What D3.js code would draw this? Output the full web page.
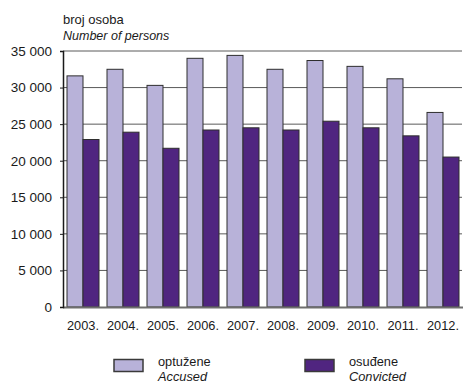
<!DOCTYPE html>
<html>
<head>
<meta charset="utf-8">
<script src="https://cdn.jsdelivr.net/npm/d3@7"></script>
<style>
  html, body { margin: 0; padding: 0; background: #fff; }
  svg { display: block; font-family: "Liberation Sans", Arial, sans-serif; }
</style>
</head>
<body>
<svg id="chart" width="463" height="385"></svg>
<script>
// Persons accused and convicted, by year
const years = ["2003.", "2004.", "2005.", "2006.", "2007.", "2008.", "2009.", "2010.", "2011.", "2012."];
const accused   = [31600, 32500, 30300, 34000, 34400, 32500, 33700, 32900, 31200, 26600];
const convicted = [22900, 23900, 21700, 24200, 24500, 24200, 25400, 24500, 23400, 20500];
const yTicks = [0, 5000, 10000, 15000, 20000, 25000, 30000, 35000];
const seriesKeys = ["accused", "convicted"];
const seriesLabels = [["optužene", "Accused"], ["osuđene", "Convicted"]];
const colors = { accused: "#b8b2d9", convicted: "#502580" };

const rows = years.map((y, i) => ({ year: y, accused: accused[i], convicted: convicted[i] }));

const svg = d3.select("#chart");
const plotLeft = 63, plotRight = 463, plotTop = 51, plotBottom = 307;

const x = d3.scaleBand().domain(years).range([plotLeft, plotRight]).paddingInner(0.2).paddingOuter(0.1);
const xs = d3.scaleBand().domain(seriesKeys).range([0, x.bandwidth()]).padding(0);
const y = d3.scaleLinear().domain([0, 35000]).range([plotBottom, plotTop]);

const fmt = d3.formatLocale({ decimal: ",", thousands: " ", grouping: [3], currency: ["", ""] }).format(",d");

// horizontal gridlines
svg.append("g")
  .selectAll("line")
  .data(yTicks.filter(d => d > 0))
  .join("line")
  .attr("x1", plotLeft).attr("x2", plotRight - 1)
  .attr("y1", d => y(d)).attr("y2", d => y(d))
  .attr("stroke", "#5a5a5a").attr("stroke-width", 1);

// bars
const groups = svg.append("g")
  .selectAll("g")
  .data(rows)
  .join("g")
  .attr("transform", d => `translate(${x(d.year)},0)`);

groups.selectAll("rect")
  .data(d => seriesKeys.map(k => ({ key: k, value: d[k] })))
  .join("rect")
  .attr("x", d => xs(d.key))
  .attr("y", d => y(d.value))
  .attr("width", xs.bandwidth())
  .attr("height", d => y(0) - y(d.value))
  .attr("fill", d => colors[d.key])
  .attr("stroke", "#2e2e2e")
  .attr("stroke-width", 1);

// baseline
svg.append("line")
  .attr("x1", plotLeft).attr("x2", plotRight)
  .attr("y1", y(0) + 0.5).attr("y2", y(0) + 0.5)
  .attr("stroke", "#6e6e6e").attr("stroke-width", 2);

// y axis
const yAxis = svg.append("g")
  .attr("transform", `translate(${plotLeft},0)`)
  .call(d3.axisLeft(y).tickValues(yTicks).tickFormat(fmt).tickSize(3).tickPadding(8));
yAxis.select(".domain").attr("stroke", "#1a1a1a").attr("stroke-width", 1.5);
yAxis.selectAll(".tick line").attr("stroke", "#1a1a1a");
yAxis.selectAll("text").attr("font-size", 13.5).attr("fill", "#1a1a1a")
  .attr("font-family", "'Liberation Sans', Arial, sans-serif");

// x axis labels
const xAxis = svg.append("g")
  .attr("transform", `translate(0,${plotBottom})`)
  .call(d3.axisBottom(x).tickSize(0).tickPadding(14));
xAxis.select(".domain").remove();
xAxis.selectAll("text").attr("font-size", 12.8).attr("fill", "#1a1a1a")
  .attr("font-family", "'Liberation Sans', Arial, sans-serif");

// unit title
svg.append("text").attr("x", 63).attr("y", 24)
  .attr("font-size", 13).attr("fill", "#1a1a1a").text("broj osoba");
svg.append("text").attr("x", 63).attr("y", 40)
  .attr("font-size", 12.5).attr("font-style", "italic").attr("fill", "#1a1a1a").text("Number of persons");

// legend
const legendX = [114, 305];
const legend = svg.append("g")
  .selectAll("g")
  .data(seriesKeys)
  .join("g")
  .attr("transform", (d, i) => `translate(${legendX[i]},0)`);

legend.append("rect")
  .attr("x", 0).attr("y", 359.5)
  .attr("width", 29).attr("height", 12)
  .attr("fill", d => colors[d])
  .attr("stroke", "#3a3a3a").attr("stroke-width", 1.5);

legend.append("text")
  .attr("x", 44).attr("y", 366)
  .attr("font-size", 12.8).attr("fill", "#1a1a1a")
  .text((d, i) => seriesLabels[i][0]);

legend.append("text")
  .attr("x", 44).attr("y", 381)
  .attr("font-size", 12.8).attr("font-style", "italic").attr("fill", "#1a1a1a")
  .text((d, i) => seriesLabels[i][1]);
</script>
</body>
</html>
